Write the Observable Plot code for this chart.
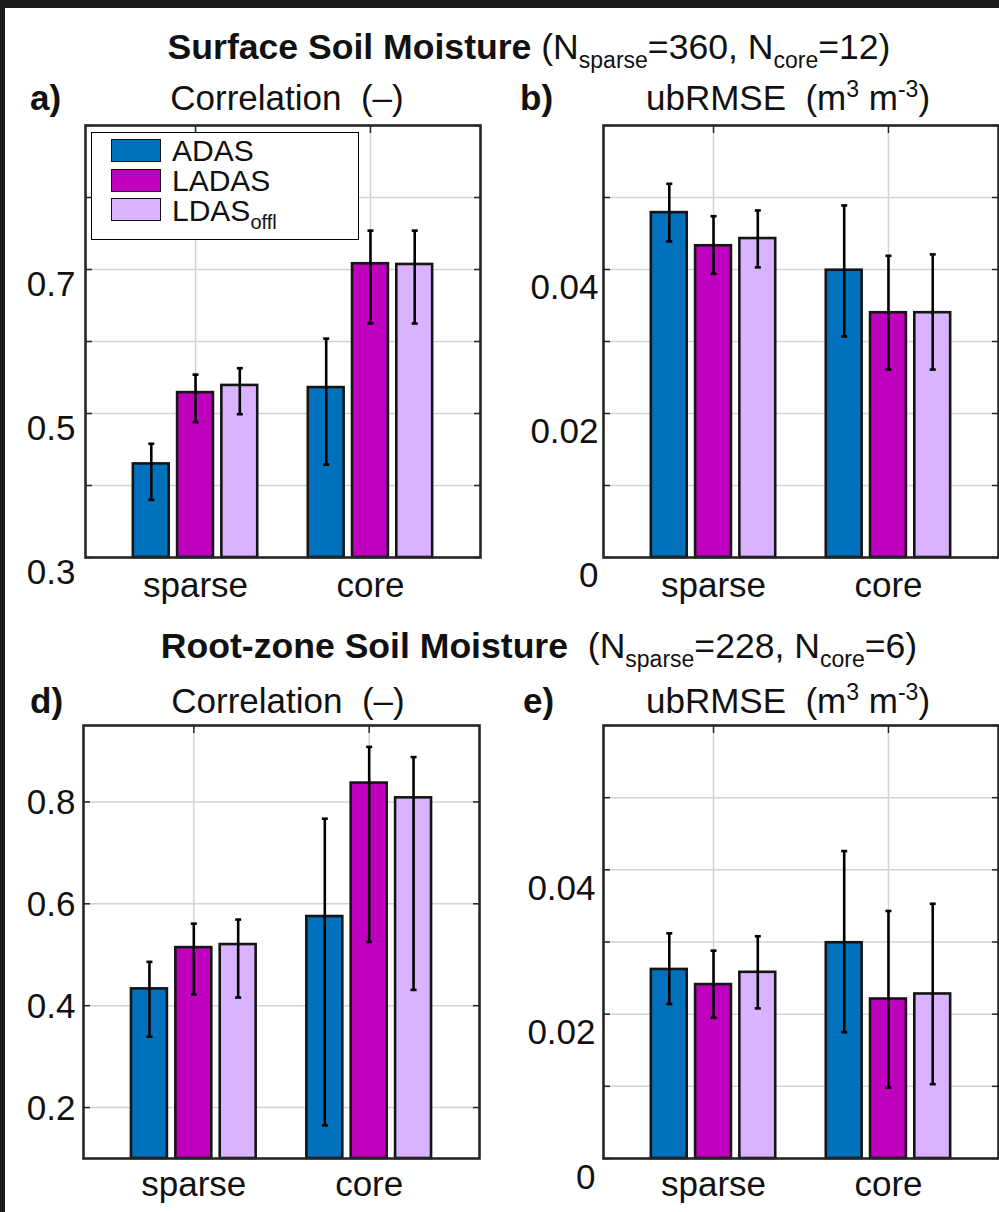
<!DOCTYPE html>
<html><head><meta charset="utf-8">
<script src="https://cdn.jsdelivr.net/npm/d3@7"></script>
<script src="https://cdn.jsdelivr.net/npm/@observablehq/plot@0.6"></script>
<style>
html,body{margin:0;padding:0;background:#1b1b1b;}
#fig{position:relative;width:999px;height:1212px;overflow:hidden;background:#1b1b1b;font-family:"Liberation Sans",Arial,sans-serif;color:#111;}
#paper{position:absolute;left:5px;top:8px;width:994px;height:1204px;background:#fff;}
.t{position:absolute;white-space:pre;}
.sub{font-size:23px;position:relative;top:9px;}
.sup{font-size:23px;position:relative;top:-13px;}
.panel{position:absolute;}
.legend{position:absolute;border:1.5px solid #000;background:#fff;box-sizing:border-box;}
.sw{position:absolute;width:50px;height:23px;border:1.5px solid #111;box-sizing:border-box;}
</style></head><body><div id="fig"><div id="paper"></div></div>
<script>
// ---- data ----
const categories = ["sparse", "core"];
const series = ["ADAS", "LADAS", "LDAS_offl"];
const seriesLabels = ["ADAS", "LADAS", "LDAS<span class='sub' style='font-size:20px;top:8px'>offl</span>"];
const colors = ["#0072BD", "#BF00BF", "#D9B3FF"];

// rows: ADAS, LADAS, LDAS_offl ; columns: sparse, core
const ssmCorrMean = [[0.430, 0.536], [0.529, 0.708], [0.539, 0.707]];
const ssmCorrLo   = [[0.380, 0.429], [0.488, 0.625], [0.499, 0.625]];
const ssmCorrHi   = [[0.458, 0.604], [0.554, 0.754], [0.563, 0.754]];
const ssmCorrTicks = [0.3, 0.4, 0.5, 0.6, 0.7, 0.8, 0.9];
const ssmCorrTickLabels = [0.3, 0.5, 0.7];

const ssmRmseMean = [[0.0479, 0.0399], [0.0433, 0.0340], [0.0443, 0.0340]];
const ssmRmseLo   = [[0.0439, 0.0307], [0.0394, 0.0261], [0.0403, 0.0261]];
const ssmRmseHi   = [[0.0519, 0.0489], [0.0474, 0.0419], [0.0482, 0.0421]];
const ssmRmseTicks = [0, 0.01, 0.02, 0.03, 0.04, 0.05, 0.06];
const ssmRmseTickLabels = [0, 0.02, 0.04];

const rzCorrMean = [[0.433, 0.575], [0.514, 0.837], [0.520, 0.808]];
const rzCorrLo   = [[0.339, 0.165], [0.422, 0.525], [0.416, 0.431]];
const rzCorrHi   = [[0.486, 0.767], [0.561, 0.908], [0.569, 0.888]];
const rzCorrTicks = [0.2, 0.4, 0.6, 0.8];
const rzCorrTickLabels = [0.2, 0.4, 0.6, 0.8];

const rzRmseMean = [[0.0262, 0.0299], [0.0241, 0.0221], [0.0258, 0.0228]];
const rzRmseLo   = [[0.0214, 0.0175], [0.0195, 0.0098], [0.0208, 0.0103]];
const rzRmseHi   = [[0.0312, 0.0426], [0.0288, 0.0343], [0.0308, 0.0353]];
const rzRmseTicks = [0, 0.01, 0.02, 0.03, 0.04, 0.05, 0.06];
const rzRmseTickLabels = [0, 0.02, 0.04];

// ---- drawing ----
const fig = document.getElementById("fig");
const FONT = "'Liberation Sans', Arial, sans-serif";

function addText(html, x, baseline, size, opts = {}) {
  const L = opts.lh || 1;
  const d = document.createElement("div");
  d.className = "t";
  d.innerHTML = html;
  d.style.fontSize = size + "px";
  d.style.lineHeight = L;
  d.style.fontWeight = opts.bold ? "bold" : "normal";
  d.style.top = (baseline - size * (L / 2 + 0.3465)) + "px";
  d.style.left = x + "px";
  if (opts.center) d.style.transform = "translateX(-50%)";
  fig.appendChild(d);
}

const cap = {draw(ctx, size) { const w = Math.sqrt(size / Math.PI); ctx.moveTo(-w, 0); ctx.lineTo(w, 0); }};
const OFFSET = 0.253, BW = 0.205;

function panel(cfg) {
  const rows = [];
  series.forEach((s, si) => categories.forEach((c, ci) => rows.push({
    series: s, pos: ci + 1 + (si - 1) * OFFSET,
    v: cfg.mean[si][ci], lo: cfg.lo[si][ci], hi: cfg.hi[si][ci]
  })));
  const base = cfg.domain[0];
  const W = cfg.mL + cfg.pw + cfg.mR, H = cfg.mT + cfg.ph + cfg.mB;
  const grid = {stroke: "#d3d3d3", strokeOpacity: 1, strokeWidth: 1.5};
  const p = Plot.plot({
    width: W, height: H,
    marginLeft: cfg.mL, marginRight: cfg.mR, marginTop: cfg.mT, marginBottom: cfg.mB,
    x: {domain: [0.371, 2.629]},
    y: {domain: cfg.domain},
    color: {domain: series, range: colors},
    style: {fontFamily: FONT, fontSize: "35px", color: "#111", background: "transparent", overflow: "visible"},
    marks: [
      Plot.gridY(cfg.ticks, grid),
      Plot.gridX([1, 2], grid),
      Plot.rect(rows, {x1: d => d.pos - BW / 2, x2: d => d.pos + BW / 2, y1: () => base, y2: "v",
        fill: "series", stroke: "#151515", strokeWidth: 2.6}),
      Plot.ruleX(rows, {x: "pos", y1: "lo", y2: "hi", stroke: "#000", strokeWidth: 2.6}),
      Plot.dot(rows, {x: "pos", y: "lo", symbol: cap, r: 3, fill: "none", stroke: "#000", strokeWidth: 2.6}),
      Plot.dot(rows, {x: "pos", y: "hi", symbol: cap, r: 3, fill: "none", stroke: "#000", strokeWidth: 2.6}),
      Plot.axisY(cfg.ticks, {anchor: "left", tickSize: -7, fill: "none", label: null, stroke: "#262626", strokeWidth: 1.5}),
      Plot.axisY(cfg.ticks, {anchor: "right", tickSize: -7, fill: "none", label: null, stroke: "#262626", strokeWidth: 1.5}),
      Plot.axisX([1, 2], {anchor: "top", tickSize: -7, fill: "none", label: null, stroke: "#262626", strokeWidth: 1.5}),
      Plot.axisY(cfg.labels, {anchor: "left", tickSize: 0, tickPadding: cfg.padL, dy: cfg.labelDy,
        tickFormat: d => String(d), fontSize: 35, label: null}),
      Plot.axisX([1, 2], {anchor: "bottom", tickSize: 0, tickPadding: cfg.xPad,
        tickFormat: i => categories[i - 1], fontSize: 35, label: null}),
      Plot.frame({stroke: "#262626", strokeWidth: 2.6})
    ]
  });
  const wrap = document.createElement("div");
  wrap.className = "panel";
  wrap.style.left = cfg.left + "px";
  wrap.style.top = cfg.top + "px";
  wrap.appendChild(p);
  fig.appendChild(wrap);
}

panel({mean: ssmCorrMean, lo: ssmCorrLo, hi: ssmCorrHi, domain: [0.3, 0.9], ticks: ssmCorrTicks, labels: ssmCorrTickLabels,
  left: 0, top: 115, mL: 85, mR: 10, mT: 10, mB: 60, pw: 395, ph: 432, padL: 10, labelDy: 15, xPad: 15});
panel({mean: ssmRmseMean, lo: ssmRmseLo, hi: ssmRmseHi, domain: [0, 0.06], ticks: ssmRmseTicks, labels: ssmRmseTickLabels,
  left: 520, top: 115, mL: 83, mR: 1, mT: 10, mB: 60, pw: 395, ph: 432, padL: 5, labelDy: 18, xPad: 15});
panel({mean: rzCorrMean, lo: rzCorrLo, hi: rzCorrHi, domain: [0.1, 0.95], ticks: rzCorrTicks, labels: rzCorrTickLabels,
  left: 0, top: 715, mL: 83, mR: 10, mT: 10, mB: 54, pw: 396, ph: 433, padL: 8, labelDy: 1, xPad: 13});
panel({mean: rzRmseMean, lo: rzRmseLo, hi: rzRmseHi, domain: [0, 0.06], ticks: rzRmseTicks, labels: rzRmseTickLabels,
  left: 520, top: 715, mL: 83, mR: 1, mT: 10, mB: 54, pw: 395, ph: 433, padL: 8, labelDy: 19, xPad: 13});

// titles
addText("<b>Surface Soil Moisture</b> (N<span class='sub'>sparse</span>=360, N<span class='sub'>core</span>=12)", 529, 60, 35.6, {center: true});
addText("<b>Root-zone Soil Moisture</b>  (N<span class='sub'>sparse</span>=228, N<span class='sub'>core</span>=6)", 539, 659, 35.6, {center: true});
addText("a)", 30, 110, 35, {bold: true});
addText("Correlation  (–)", 287, 110, 35, {center: true});
addText("b)", 520, 110, 35, {bold: true});
addText("ubRMSE  (m<span class='sup'>3</span> m<span class='sup'>-3</span>)", 788, 110, 35, {center: true});
addText("d)", 30, 713, 35, {bold: true});
addText("Correlation  (–)", 288, 713, 35, {center: true});
addText("e)", 523, 713, 35, {bold: true});
addText("ubRMSE  (m<span class='sup'>3</span> m<span class='sup'>-3</span>)", 788, 713, 35, {center: true});

// legend (panel a)
const lg = document.createElement("div");
lg.className = "legend";
lg.style.left = "91px"; lg.style.top = "132px"; lg.style.width = "268px"; lg.style.height = "108px";
fig.appendChild(lg);
series.forEach((s, i) => {
  const sw = document.createElement("div");
  sw.className = "sw";
  sw.style.left = "111px"; sw.style.top = (139 + i * 29.5) + "px";
  sw.style.background = colors[i];
  fig.appendChild(sw);
  addText(seriesLabels[i], 172, 161 + i * 30, 30, {lh: 0.85});
});
</script></body></html>
